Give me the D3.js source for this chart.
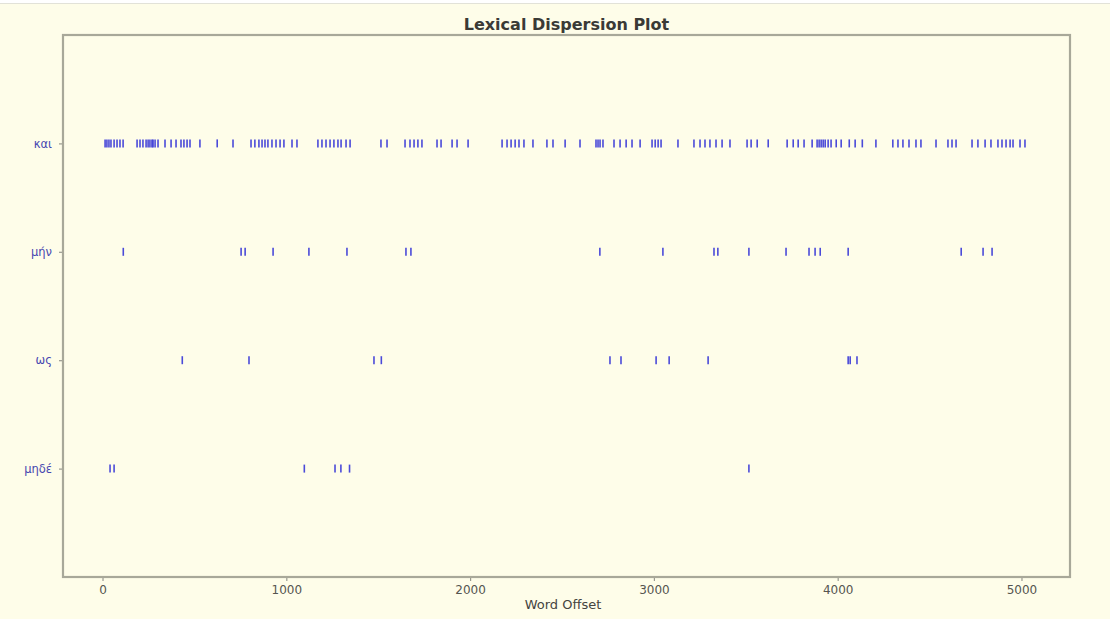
<!DOCTYPE html>
<html>
<head>
<meta charset="utf-8">
<script src="https://cdn.jsdelivr.net/npm/d3@7"></script>
<style>
  html, body { margin: 0; padding: 0; background: #fefde9; }
  svg { display: block; }
</style>
</head>
<body>
<svg id="chart" width="1110" height="619"></svg>
<script>
// Words shown on the y axis, top to bottom
const words = ["και", "μήν", "ως", "μηδέ"];

// Word offsets at which each word occurs in the text
const offsetsKai = [
  14, 24, 35, 46, 63, 79, 95, 112,
  188, 204, 220, 237, 248, 258, 269, 275, 286, 302,
  340, 373, 400, 427, 443, 460, 476, 530, 624, 710,
  808, 829, 851, 868, 884, 900, 922, 944, 966, 987, 1031, 1058,
  1172, 1194, 1216, 1238, 1259, 1281, 1298, 1325, 1347,
  1515, 1548, 1646, 1673, 1695, 1716, 1738, 1820, 1842, 1902, 1929, 1989,
  2174, 2201, 2223, 2245, 2266, 2293, 2342, 2418, 2451, 2517, 2598,
  2685, 2696, 2707, 2723, 2783, 2816, 2849, 2881, 2925,
  2990, 3007, 3023, 3039, 3131,
  3218, 3251, 3278, 3305, 3338, 3371, 3414, 3507, 3529, 3562, 3622,
  3725, 3758, 3785, 3817, 3861, 3888, 3899, 3910, 3921, 3932, 3948, 3964, 3992, 4019,
  4063, 4095, 4134, 4208, 4300, 4328, 4355, 4388, 4426, 4453, 4535,
  4600, 4622, 4644, 4731, 4763, 4802, 4834, 4872, 4894, 4916, 4938, 4954, 4992, 5019
];
const offsetsMin = [
  113, 754, 776, 928, 1123, 1330, 1651, 1678, 2706, 3049, 3327, 3348,
  3517, 3719, 3844, 3877, 3905, 4057, 4672, 4791, 4840
];
const offsetsOs = [
  434, 797, 1477, 1517, 2761, 2821, 3012, 3083, 3295, 4057, 4068, 4105
];
const offsetsMide = [41, 63, 1098, 1265, 1297, 1344, 3517];

const xTicks = [0, 1000, 2000, 3000, 4000, 5000];

const series = [offsetsKai, offsetsMin, offsetsOs, offsetsMide];

const W = 1110, H = 619;
const plot = { left: 63, right: 1070, top: 35, bottom: 577 };
const FONT = "DejaVu Sans, sans-serif";

const svg = d3.select("#chart");

// Page background and thin top rule
svg.append("rect").attr("width", W).attr("height", H).attr("fill", "#fefde9");
svg.append("rect").attr("width", W).attr("height", 3).attr("fill", "#ffffff");
svg.append("line").attr("x1", 0).attr("x2", W).attr("y1", 3.5).attr("y2", 3.5)
  .attr("stroke", "#e2e2d8").attr("stroke-width", 1);

const x = d3.scaleLinear().domain([-215, 5264]).range([plot.left, plot.right]);
// y positions: index 0 at top, axis range spans -1 .. n
const y = d3.scaleLinear().domain([-1, words.length]).range([plot.top, plot.bottom]);

// Tick marks for each occurrence
const g = svg.append("g");
series.forEach((offs, i) => {
  g.selectAll(null)
    .data(offs)
    .join("line")
    .attr("x1", d => x(d))
    .attr("x2", d => x(d))
    .attr("y1", y(i) - 4)
    .attr("y2", y(i) + 4)
    .attr("stroke", "#2a2ad6")
    .attr("stroke-opacity", 0.85)
    .attr("stroke-width", 1.6);
});

// X axis
const xAxis = d3.axisBottom(x).tickValues(xTicks).tickSize(4).tickPadding(4.5)
  .tickFormat(d3.format("d"));
const gx = svg.append("g").attr("transform", `translate(0,${plot.bottom})`).call(xAxis);
gx.select(".domain").remove();
gx.selectAll(".tick line").attr("stroke", "#999990").attr("stroke-width", 1.2);
gx.selectAll(".tick text")
  .attr("font-family", FONT)
  .attr("font-size", 12)
  .attr("fill", "#555550");

// Y axis with word labels
const yAxis = d3.axisLeft(y).tickValues(d3.range(words.length)).tickSize(4).tickPadding(7)
  .tickFormat(i => words[i]);
const gy = svg.append("g").attr("transform", `translate(${plot.left},0)`).call(yAxis);
gy.select(".domain").remove();
gy.selectAll(".tick line").attr("stroke", "#999990").attr("stroke-width", 1.2);
gy.selectAll(".tick text")
  .attr("font-family", FONT)
  .attr("font-size", 11.5)
  .attr("fill", "#4646b0");

// Plot frame
svg.append("rect")
  .attr("x", plot.left).attr("y", plot.top)
  .attr("width", plot.right - plot.left).attr("height", plot.bottom - plot.top)
  .attr("fill", "none").attr("stroke", "#a8a899").attr("stroke-width", 2.2);

// Title and axis label
svg.append("text")
  .attr("x", (plot.left + plot.right) / 2).attr("y", 30)
  .attr("text-anchor", "middle")
  .attr("font-family", FONT)
  .attr("font-size", 16).attr("font-weight", 600)
  .attr("fill", "#3a3a36")
  .text("Lexical Dispersion Plot");

svg.append("text")
  .attr("x", 563).attr("y", 609)
  .attr("text-anchor", "middle")
  .attr("font-family", FONT)
  .attr("font-size", 13)
  .attr("fill", "#444440")
  .text("Word Offset");
</script>
</body>
</html>
